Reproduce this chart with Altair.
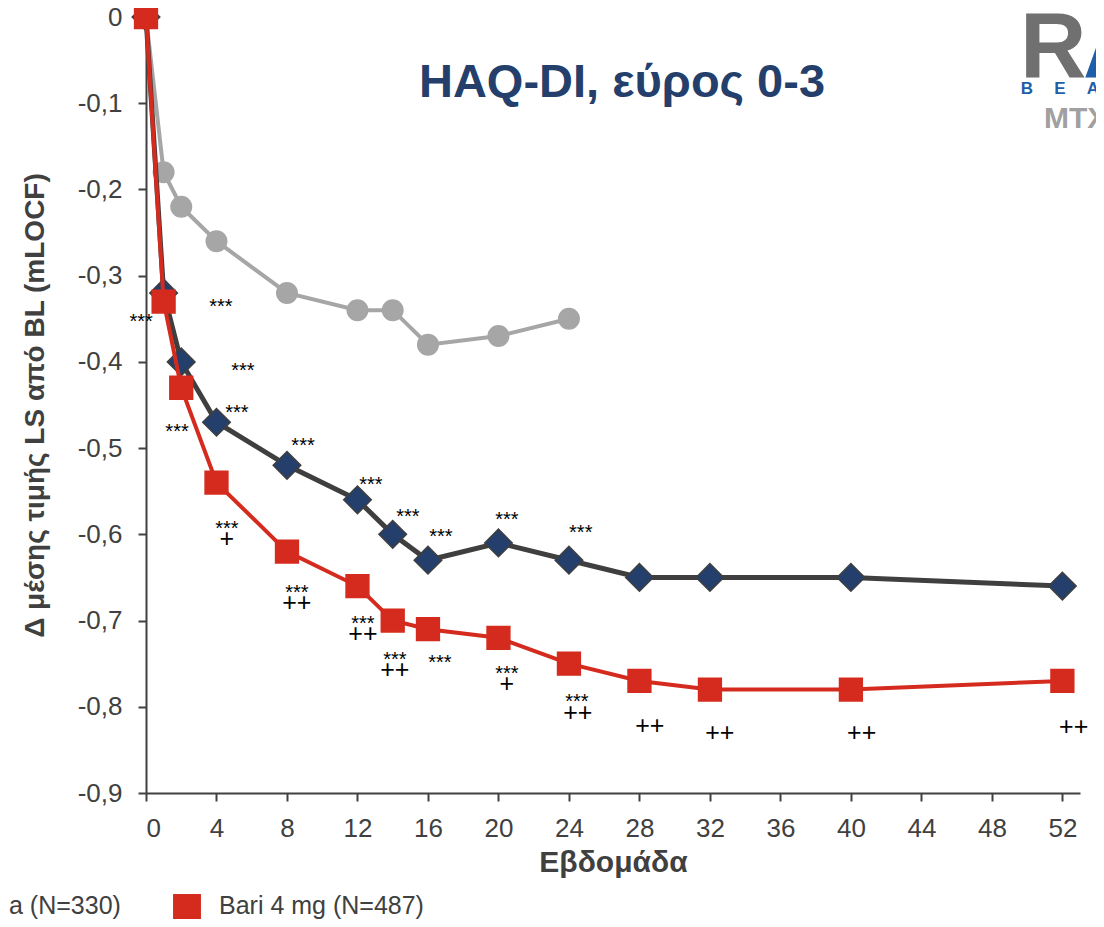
import altair as alt
import pandas as pd

FONT = "Liberation Sans"

# ---- data ----
weeks_pbo = [0, 1, 2, 4, 8, 12, 14, 16, 20, 24]
pbo = [0, -0.18, -0.22, -0.26, -0.32, -0.34, -0.34, -0.38, -0.37, -0.35]
weeks_act = [0, 1, 2, 4, 8, 12, 14, 16, 20, 24, 28, 32, 40, 52]
ada = [0, -0.32, -0.40, -0.47, -0.52, -0.56, -0.60, -0.63, -0.61, -0.63, -0.65, -0.65, -0.65, -0.66]
bari = [0, -0.33, -0.43, -0.54, -0.62, -0.66, -0.70, -0.71, -0.72, -0.75, -0.77, -0.78, -0.78, -0.77]

star_weeks = [-0.28, 4.25, 5.50, 1.76, 5.16, 8.91, 4.59, 8.56, 12.76, 12.31, 14.86, 16.73,
              14.12, 16.68, 20.48, 20.48, 24.67, 24.45]
star_vals = [-0.348, -0.331, -0.405, -0.476, -0.453, -0.492, -0.588, -0.662, -0.537, -0.698,
             -0.574, -0.597, -0.740, -0.743, -0.578, -0.756, -0.593, -0.789]
plus_weeks = [4.59, 8.56, 12.31, 14.12, 20.48, 24.50, 28.59, 32.56, 40.61, 52.64]
plus_vals = [-0.605, -0.680, -0.716, -0.757, -0.774, -0.807, -0.822, -0.830, -0.830, -0.823]
plus_text = ["+", "++", "++", "++", "+", "++", "++", "++", "++", "++"]

x_ticks = list(range(0, 53, 4))
y_ticks = [0, -0.1, -0.2, -0.3, -0.4, -0.5, -0.6, -0.7, -0.8, -0.9]

df_pbo = pd.DataFrame({"week": weeks_pbo, "value": pbo})
df_ada = pd.DataFrame({"week": weeks_act, "value": ada})
df_bari = pd.DataFrame({"week": weeks_act, "value": bari})
df_star = pd.DataFrame({"week": star_weeks, "value": star_vals, "t": ["***"] * len(star_weeks)})
df_plus = pd.DataFrame({"week": plus_weeks, "value": plus_vals, "t": plus_text})

W, H = 934, 776

xscale = alt.Scale(domain=[0, 53], nice=False, zero=False)
yscale = alt.Scale(domain=[-0.9, 0], nice=False, zero=False)
xaxis = alt.Axis(values=x_ticks, title="Εβδομάδα", titlePadding=6, labelPadding=14,
                 titleFontSize=30)
yaxis = alt.Axis(
    values=y_ticks,
    title="Δ μέσης τιμής LS από BL (mLOCF)",
    labelExpr="datum.value == 0 ? '0' : '-0,' + format(abs(datum.value) * 10, '.0f')",
    titleFontSize=28,
    titlePadding=28,
    labelPadding=16,
)


def X():
    return alt.X("week:Q", scale=xscale, axis=xaxis)


def Y():
    return alt.Y("value:Q", scale=yscale, axis=yaxis)


def series(df, line_color, width, shape, fill, size, stroke):
    line = alt.Chart(df).mark_line(color=line_color, strokeWidth=width).encode(x=X(), y=Y())
    pts = alt.Chart(df).mark_point(
        shape=shape, filled=True, fill=fill, size=size, opacity=1,
        stroke=stroke, strokeWidth=1.5
    ).encode(x=X(), y=Y())
    return line + pts


pbo_l = series(df_pbo, "#a6a6a6", 4, "circle", "#a6a6a6", 420, "#a6a6a6")
ada_l = series(df_ada, "#3f3f3f", 5, "diamond", "#243f6b", 760, "#3f3f3f")
bari_l = series(df_bari, "#d52b1e", 4, "square", "#d52b1e", 520, "#d52b1e")

stars = alt.Chart(df_star).mark_text(font=FONT, fontSize=20, color="#000000", dy=5).encode(
    x=X(), y=Y(), text="t:N")
pluses = alt.Chart(df_plus).mark_text(font=FONT, fontSize=25, color="#000000").encode(
    x=X(), y=Y(), text="t:N")

one = alt.Data(values=[{"a": 1}])


def deco(text, x, y, size, color, weight="normal", align="center", baseline="middle"):
    return alt.Chart(one).mark_text(
        text=text, font=FONT, fontSize=size, color=color, fontWeight=weight,
        align=align, baseline=baseline
    ).encode(x=alt.value(x), y=alt.value(y))


title = deco("HAQ-DI, εύρος 0-3", 476, 66, 47, "#243f6b", "bold")

# logo (cropped in reference)
logo_r = deco("R", 874, 60, 92, "#707070", "bold", "left", "alphabetic")
logo_a = deco("A", 937, 60, 92, "#1f5fa8", "bold", "left", "alphabetic")
logo_b1 = deco("B", 881, 72, 17, "#1f5fa8", "bold", "center", "middle")
logo_b2 = deco("E", 914, 72, 17, "#1f5fa8", "bold", "center", "middle")
logo_b3 = deco("A", 947, 72, 17, "#1f5fa8", "bold", "center", "middle")
logo_m = deco("MTX-", 898, 102, 30, "#a0a0a0", "bold", "left", "middle")

# legend (cropped in reference)
leg1 = deco("a (N=330)", -137, 889, 25, "#404040", "normal", "left", "middle")
leg_sq = alt.Chart(one).mark_square(color="#d52b1e", size=780, opacity=1).encode(
    x=alt.value(41), y=alt.value(891))
leg2 = deco("Bari 4 mg (N=487)", 73, 889, 25, "#404040", "normal", "left", "middle")

chart = alt.layer(
    pbo_l, ada_l, bari_l, stars, pluses, title,
    logo_r, logo_a, logo_b1, logo_b2, logo_b3, logo_m, leg1, leg_sq, leg2
).properties(
    width=W, height=H,
    autosize=alt.AutoSizeParams(type="none"),
    padding={"left": 138, "top": 9, "right": 16, "bottom": 126},
).configure_view(stroke=None).configure_axis(
    grid=False,
    domainColor="#404040", domainWidth=2,
    tickColor="#404040", tickWidth=2, tickSize=8,
    labelFont=FONT, labelFontSize=26, labelColor="#404040",
    titleFont=FONT, titleFontSize=27, titleFontWeight="bold", titleColor="#404040",
)

chart.save("out.html", embed_options={"renderer": "svg", "actions": False})
